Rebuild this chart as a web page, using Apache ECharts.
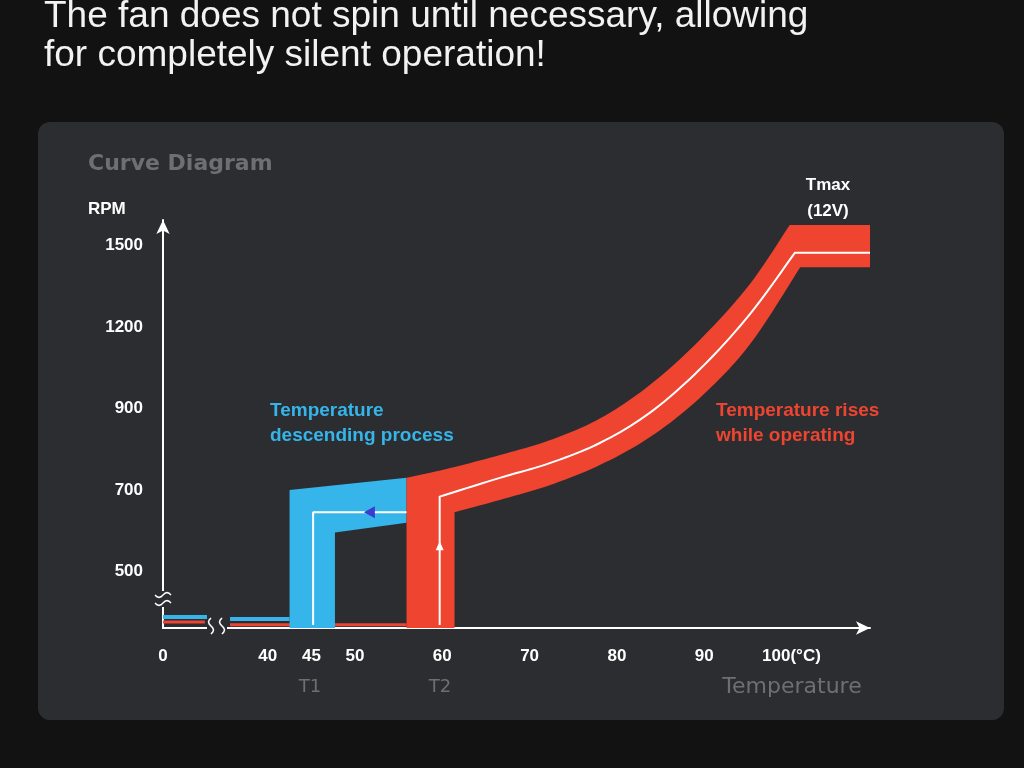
<!DOCTYPE html>
<html><head><meta charset="utf-8">
<script src="https://cdn.jsdelivr.net/npm/echarts@6/dist/echarts.min.js"></script>
<style>html,body{margin:0;background:#121212;}#c{width:1024px;height:768px;}</style>
</head><body><div id="c"></div>
<script>
// ---- data (temperature °C, RPM) ----
const xTickTemps = [0, 40, 45, 50, 60, 70, 80, 90, 100];
const yTickRpms = [500, 700, 900, 1200, 1500];
const redUpper = [[55.9,0],[55.9,730],[60.9,754],[66.6,786],[72.3,822],[78.1,876],[83.8,987],[89.5,1152],[95.2,1356],[99.8,1575],[109,1575]];
const redLower = [[61.4,0],[61.4,646],[66.6,676],[72.3,712],[78.1,762],[83.8,830],[89.5,939],[95.2,1134],[101,1419],[109,1419]];
const riseLine = [[59.7,27],[59.7,684],[66.6,730],[72.3,766],[78.1,816],[83.8,890],[89.5,1044],[95.2,1245],[100.4,1473],[109,1473]];
const blueBand = [[42.5,0],[42.5,700],[55.9,730],[55.9,620],[47.7,596],[47.7,0]];
const descLine = [[55.9,646],[45.2,646],[45.2,27]];
const arrowPoint = [51.7,646];
const riseArrowPoint = [59.7,560];
const redIdleA = [[0,53],[16,53]];
const redIdleB = [[25.6,29],[55.9,29]];
const blueIdleA = [[0,97],[18,97]];
const blueIdleB = [[25.6,80],[42.5,80]];

function toD(t){ return t >= 40 ? t - 28 : t * 12 / 40; }
const rpmStops = [[0,0],[500,0.69],[700,1.69],[900,2.69],[1200,3.69],[1500,4.69],[1800,5.69]];
function toL(r){
  for (let i=1;i<rpmStops.length;i++){
    const a=rpmStops[i-1], b=rpmStops[i];
    if (r<=b[0]) return a[1]+(r-a[0])/(b[0]-a[0])*(b[1]-a[1]);
  }
  return 5.69;
}
const tr = pts => pts.map(p => [toD(p[0]), toL(p[1])]);

function smoothPath(px){
  if (px.length < 4) return px;
  const out=[px[0]];
  const inner = px.slice(1, px.length-1);
  for (let i=0;i<inner.length-1;i++){
    const p0=inner[Math.max(0,i-1)], p1=inner[i], p2=inner[i+1], p3=inner[Math.min(inner.length-1,i+2)];
    for (let k=0;k<10;k++){
      const t=k/10, t2=t*t, t3=t2*t;
      out.push([0,1].map(j=>0.5*((2*p1[j])+(-p0[j]+p2[j])*t+(2*p0[j]-5*p1[j]+4*p2[j]-p3[j])*t2+(-p0[j]+3*p1[j]-3*p2[j]+p3[j])*t3)));
    }
  }
  out.push(inner[inner.length-1]); out.push(px[px.length-1]);
  return out;
}

const RED='#ee4430', BLUE='#35b5ea';
function bandSeries(up, low, color, z){
  return {type:'custom', z:z, silent:true, clip:false, data:[0], renderItem:(params, api)=>{
    const a = smoothPath(tr(up).map(p=>api.coord(p)));
    const b = smoothPath(tr(low).map(p=>api.coord(p)));
    return {type:'polygon', shape:{points:a.concat(b.reverse())}, style:{fill:color}};
  }};
}
function curveSeries(pts, color, w, z){
  return {type:'custom', z:z, silent:true, clip:false, data:[0], renderItem:(params, api)=>({
    type:'polyline', shape:{points:smoothPath(tr(pts).map(p=>api.coord(p)))}, style:{stroke:color, lineWidth:w, fill:null}
  })};
}
function polySeries(pts, color, z){
  return {type:'custom', z:z, silent:true, clip:false, data:[0], renderItem:(params, api)=>({
    type:'polygon', shape:{points: tr(pts).map(p=>api.coord(p))}, style:{fill:color}
  })};
}
function lineSeries(pts, color, w, z){
  return {type:'line', z:z, data:tr(pts), symbol:'none', silent:true, lineStyle:{color:color,width:w}};
}
const xLabelMap = {}; xTickTemps.forEach(t=>xLabelMap[toD(t).toFixed(3)] = (t===100?'100(°C)':String(t)));
const yLabelMap = {}; yTickRpms.forEach(r=>yLabelMap[toL(r).toFixed(3)] = String(r));
const F = '"Liberation Sans", Arial';
function wave(x0,y0,horiz){
  const pts=[];
  for(let i=0;i<=8;i++){ const s=i*2, o=Math.sin(i*Math.PI/4)*2.5; pts.push(horiz?[x0+s,y0+o]:[x0+o,y0-s]); }
  return pts;
}

const chart = echarts.init(document.getElementById('c'));
chart.setOption({
  backgroundColor:'#121212',
  animation:false,
  graphic:[
    {type:'rect', z:-10, shape:{x:38,y:122,width:966,height:598,r:12}, style:{fill:'#2b2d31'}},
    {type:'text', x:44, y:-3, style:{text:'The fan does not spin until necessary, allowing\nfor completely silent operation!', fill:'#f2f2f2', font:'37px '+F, lineHeight:39}},
    {type:'text', x:88, y:153, style:{text:'Curve Diagram', fill:'#6e6f72', font:'bold 22px "DejaVu Sans"'}},
    {type:'text', x:88, y:201, style:{text:'RPM', fill:'#fff', font:'bold 17px '+F}},
    {type:'text', x:828, y:172, style:{text:'Tmax\n(12V)', fill:'#fff', align:'center', font:'bold 17px '+F, lineHeight:26}},
    {type:'text', x:270, y:398, style:{text:'Temperature\ndescending process', fill:BLUE, font:'bold 19px '+F, lineHeight:25}},
    {type:'text', x:716, y:398, style:{text:'Temperature rises\nwhile operating', fill:RED, font:'bold 19px '+F, lineHeight:25}},
    {type:'text', x:310, y:678, style:{text:'T1', fill:'#6e6f72', align:'center', font:'18px "DejaVu Sans"'}},
    {type:'text', x:440, y:678, style:{text:'T2', fill:'#6e6f72', align:'center', font:'18px "DejaVu Sans"'}},
    {type:'text', x:792, y:676, style:{text:'Temperature', fill:'#6e6f72', align:'center', font:'22px "DejaVu Sans"'}},
    {type:'rect', z:100, shape:{x:154,y:591,width:18,height:16}, style:{fill:'#2b2d31'}},
    {type:'polyline', z:101, shape:{points:wave(155,595,true)}, style:{stroke:'#fff', lineWidth:1.5}},
    {type:'polyline', z:101, shape:{points:wave(155,603,true)}, style:{stroke:'#fff', lineWidth:1.5}},
    {type:'rect', z:100, shape:{x:207,y:612,width:20,height:24}, style:{fill:'#2b2d31'}},
    {type:'polyline', z:101, shape:{points:wave(211,634,false)}, style:{stroke:'#fff', lineWidth:1.5}},
    {type:'polyline', z:101, shape:{points:wave(222,634,false)}, style:{stroke:'#fff', lineWidth:1.5}}
  ],
  grid:{left:163, right:154, top:220, bottom:140},
  xAxis:{type:'value', min:0, max:81, splitLine:{show:false}, axisTick:{show:false},
    axisLine:{lineStyle:{color:'#fff',width:2}, symbol:['none','arrow'], symbolSize:[10,14]},
    axisLabel:{customValues:xTickTemps.map(toD), color:'#fff', fontSize:17, fontWeight:'bold', margin:20,
      fontFamily:F, formatter:v=>xLabelMap[v.toFixed(3)]||''}},
  yAxis:{type:'value', min:0, max:5, splitLine:{show:false}, axisTick:{show:false},
    axisLine:{show:true, lineStyle:{color:'#fff',width:2}, symbol:['none','arrow'], symbolSize:[10,14]},
    axisLabel:{customValues:yTickRpms.map(toL), color:'#fff', fontSize:17, fontWeight:'bold', margin:20,
      fontFamily:F, formatter:v=>yLabelMap[v.toFixed(3)]||''}},
  series:[
    lineSeries(blueIdleA, BLUE, 4, 2), lineSeries(blueIdleB, BLUE, 4, 2),
    lineSeries(redIdleA, RED, 3, 3), lineSeries(redIdleB, RED, 3, 3),
    polySeries(blueBand, BLUE, 4),
    bandSeries(redUpper, redLower, RED, 5),
    curveSeries(riseLine, '#ffffff', 2, 6),
    lineSeries(descLine, '#ffffff', 2, 6),
    {type:'custom', z:7, silent:true, data:[0], renderItem:(p, api)=>{
      const c = api.coord([toD(arrowPoint[0]), toL(arrowPoint[1])]);
      return {type:'polygon', shape:{points:[[c[0]-6,c[1]],[c[0]+5,c[1]-6],[c[0]+5,c[1]+6]]}, style:{fill:'#3b3bd0'}};
    }},
    {type:'custom', z:7, silent:true, data:[0], renderItem:(p, api)=>{
      const c = api.coord([toD(riseArrowPoint[0]), toL(riseArrowPoint[1])]);
      return {type:'polygon', shape:{points:[[c[0],c[1]-6],[c[0]-4,c[1]+3],[c[0]+4,c[1]+3]]}, style:{fill:'#fff'}};
    }}
  ]
});
</script></body></html>
